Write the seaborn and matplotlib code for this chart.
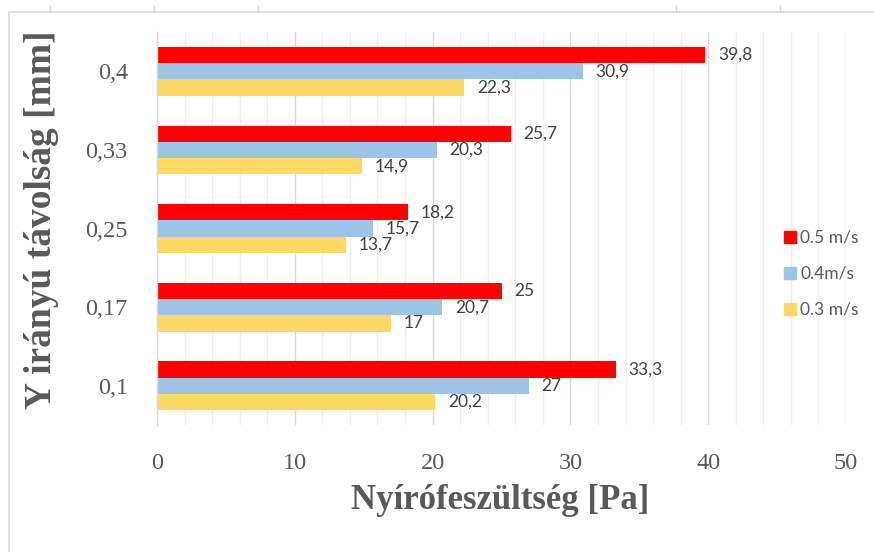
import matplotlib
matplotlib.use("Agg")
import matplotlib.pyplot as plt
from matplotlib.lines import Line2D
from matplotlib.ticker import MultipleLocator
import seaborn as sns
import pandas as pd

# Distances in the Y direction (top to bottom) and shear stress per inlet velocity
distances = ["0,4", "0,33", "0,25", "0,17", "0,1"]
speeds = ["0.5 m/s", "0.4m/s", "0.3 m/s"]
stress_05 = [39.8, 25.7, 18.2, 25.0, 33.3]
stress_04 = [30.9, 20.3, 15.7, 20.7, 27.0]
stress_03 = [22.3, 14.9, 13.7, 17.0, 20.2]
x_ticks = [0, 10, 20, 30, 40, 50]

colors = ["#FF0000", "#9DC3E6", "#FFD966"]

rows = []
for spd, vals in zip(speeds, [stress_05, stress_04, stress_03]):
    for d, v in zip(distances, vals):
        rows.append({"dist": d, "speed": spd, "stress": v})
df = pd.DataFrame(rows)

sns.set_theme(style="white")
plt.rcParams["font.family"] = ["DejaVu Sans"]

fig = plt.figure(figsize=(8.74, 5.52), dpi=100)
ax = fig.add_axes([0.1796, 0.230, 0.968 - 0.1796, 0.942 - 0.230])

sns.barplot(data=df, y="dist", x="stress", hue="speed", order=distances,
            hue_order=speeds, palette=colors, orient="h", width=0.62,
            gap=0, linewidth=0, saturation=1, errorbar=None, ax=ax, legend=False)

# value labels with decimal comma
for cont in ax.containers:
    labels = [f"{b.get_width():g}".replace(".", ",") for b in cont]
    ax.bar_label(cont, labels=labels, padding=9, fontsize=12.5,
                 color="#404040", family="Lato")

ax.set_xlim(0, 50)
ax.set_ylim(len(distances) - 0.5, -0.5)
ax.set_xticks(x_ticks)
ax.xaxis.set_minor_locator(MultipleLocator(2))
ax.grid(axis="x", which="minor", color="#EFEFEF", linewidth=1.0)
ax.grid(axis="x", which="major", color="#D9D9D9", linewidth=1.0)
ax.grid(axis="y", visible=False)
ax.set_axisbelow(True)
for s in ["top", "right", "bottom"]:
    ax.spines[s].set_visible(False)
ax.spines["left"].set_color("#D9D9D9")
ax.spines["left"].set_linewidth(1.0)
ax.tick_params(axis="both", length=0, labelsize=17.5, labelcolor="#595959")
for lab in ax.get_xticklabels() + ax.get_yticklabels():
    lab.set_family("Liberation Serif")
ax.tick_params(axis="x", pad=20)
ax.tick_params(axis="y", pad=21)

ax.set_xlabel("")
ax.set_ylabel("")
fig.text(0.572, 0.094, "Nyírófeszültség [Pa]", ha="center", va="center",
         fontsize=25, fontweight="bold", family="Liberation Serif", color="#595959")
fig.text(0.048, 0.601, "Y irányú távolság [mm]", ha="center", va="center",
         rotation=90, fontsize=27, fontweight="bold", family="Liberation Serif",
         color="#595959")

handles = [Line2D([], [], marker="s", linestyle="none", markersize=8,
                  markerfacecolor=c, markeredgecolor=c) for c in colors]
leg = fig.legend(handles, speeds, loc="center left",
                 bbox_to_anchor=(0.877, 0.504), frameon=False,
                 handletextpad=0.15, labelspacing=1.15, handlelength=0.9,
                 prop={"family": "Lato", "size": 12.5})
for t in leg.get_texts():
    t.set_color("#595959")

# chart area frame edges
fig.add_artist(Line2D([9 / 874, 9 / 874], [0, 1 - 12 / 552],
                      transform=fig.transFigure, color="#D9D9D9", linewidth=1.2))
fig.add_artist(Line2D([9 / 874, 1], [1 - 12 / 552, 1 - 12 / 552],
                      transform=fig.transFigure, color="#D9D9D9", linewidth=1.2))
for px in [50, 154, 258, 676, 780]:
    fig.add_artist(Line2D([px / 874, px / 874], [1 - 12 / 552, 1 - 6 / 552],
                          transform=fig.transFigure, color="#D9D9D9", linewidth=1.0))

fig.savefig("out.png", dpi=100, facecolor="white")
